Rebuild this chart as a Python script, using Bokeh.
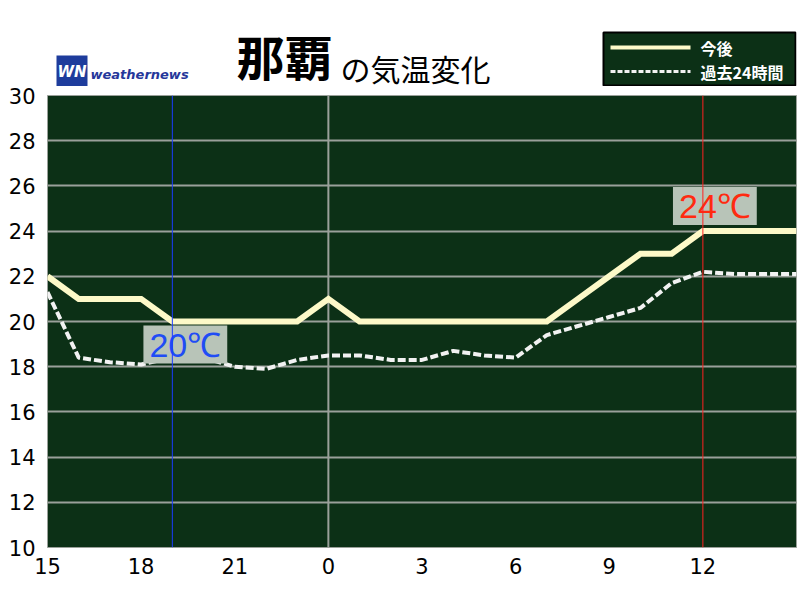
from bokeh.plotting import figure
from bokeh.layouts import column
from bokeh.models import Range1d, FixedTicker, Span, Label
from bokeh.embed import file_html
from bokeh.resources import INLINE

# ---- data ----
hours = list(range(25))                      # 15:00 today .. 15:00 tomorrow
tick_pos = [0, 3, 6, 9, 12, 15, 18, 21]
tick_labels = ["15", "18", "21", "0", "3", "6", "9", "12"]
future_temp = [22, 21, 21, 21, 20, 20, 20, 20, 20, 21, 20, 20, 20, 20, 20, 20, 20,
               21, 22, 23, 23, 24, 24, 24, 24]
past_temp = [21.3, 18.4, 18.2, 18.1, 18.4, 18.4, 18.0, 17.9, 18.3, 18.5, 18.5, 18.3,
             18.3, 18.7, 18.5, 18.4, 19.4, 19.8, 20.2, 20.6, 21.7, 22.2, 22.1, 22.1, 22.1]
y_ticks = [10, 12, 14, 16, 18, 20, 22, 24, 26, 28, 30]
title_city = "那覇"
title_rest = "の気温変化"
legend_future = "今後"
legend_past = "過去24時間"

BG = "#0c3016"
CJK = "Noto Sans CJK JP"
FUT_COLOR = "#fdf9c8"
PAST_COLOR = "#f2f2f2"
W = 798
LEFT, RIGHT = 47, 2
TOP_H = 86
MAIN_H = 512

# ---------------- header figure (title, logo, legend) ----------------
# header data coordinates equal page pixels (x: 47..796, y: 0..86 downward)
top = figure(width=W, height=TOP_H, output_backend="svg", toolbar_location=None,
             x_range=Range1d(LEFT, W - RIGHT), y_range=Range1d(TOP_H, 0),
             min_border_left=LEFT, min_border_right=RIGHT, min_border_top=0,
             min_border_bottom=0, x_axis_type=None, y_axis_type=None)
top.outline_line_color = None
top.background_fill_color = "white"
top.grid.grid_line_color = None

top.text(x=[236], y=[54], text=[title_city], text_align="left",
         text_baseline="middle", text_font={"value": CJK}, text_font_size="48px",
         text_font_style="bold", text_color="black")
top.text(x=[340], y=[67], text=[title_rest], text_align="left",
         text_baseline="middle", text_font={"value": CJK}, text_font_size="30px",
         text_color="black")

# logo
top.quad(left=[56], right=[87], top=[55], bottom=[87], fill_color="#1e3c9c",
         line_color=None)
top.text(x=[71.5], y=[71], text=["WN"], text_align="center", text_baseline="middle",
         text_font={"value": "DejaVu Sans"}, text_font_size="15px",
         text_font_style="bold italic", text_color="white")
top.text(x=[90], y=[74], text=["weathernews"], text_align="left",
         text_baseline="middle", text_font={"value": "DejaVu Sans"},
         text_font_size="13px", text_font_style="bold italic", text_color="#26379a")

# legend box drawn with the header's own glyphs
top.quad(left=[603], right=[795], top=[32], bottom=[85], fill_color=BG,
         line_color="black", line_width=2)
top.line([610, 690], [47, 47], line_color=FUT_COLOR, line_width=4)
top.line([610, 690], [71, 71], line_color=PAST_COLOR, line_width=3, line_dash="5 2")
top.text(x=[700, 700], y=[47, 71], text=[legend_future, legend_past],
         text_align="left", text_baseline="middle", text_color="white",
         text_font={"value": CJK}, text_font_size="16px", text_font_style="bold")

# ---------------- main chart ----------------
p = figure(width=W, height=MAIN_H, output_backend="svg", toolbar_location=None,
           x_range=Range1d(0, 24), y_range=Range1d(10, 30),
           min_border_left=LEFT, min_border_right=RIGHT, min_border_top=9,
           min_border_bottom=51)
p.background_fill_color = BG
p.border_fill_color = "white"
p.outline_line_color = "#9aa09a"
p.outline_line_width = 1

p.xaxis.ticker = FixedTicker(ticks=tick_pos)
p.xaxis.major_label_overrides = {t: l for t, l in zip(tick_pos, tick_labels)}
p.yaxis.ticker = FixedTicker(ticks=y_ticks)
for ax in (p.xaxis[0], p.yaxis[0]):
    ax.axis_line_color = None
    ax.major_tick_line_color = None
    ax.minor_tick_line_color = None
    ax.major_label_text_font = "DejaVu Sans"
    ax.major_label_text_font_size = "21px"
    ax.major_label_text_color = "black"
p.xaxis.major_label_standoff = 4
p.yaxis.major_label_standoff = 6

p.xgrid.grid_line_color = None
p.ygrid.grid_line_color = "#9aa09a"
p.ygrid.grid_line_width = 2

# day boundary line (at tick labelled "0")
p.add_layout(Span(location=tick_pos[tick_labels.index("0")], dimension="height",
                  line_color="#9aa09a", line_width=2, level="underlay"))

r_future = p.line(hours, future_temp, line_color=FUT_COLOR, line_width=6,
                  line_join="miter")
r_past = p.line(hours, past_temp, line_color=PAST_COLOR, line_width=4,
                line_dash="8 3")

fmin = min(future_temp)
fmax = max(future_temp)
imin = hours[future_temp.index(fmin)]
imax = hours[future_temp.index(fmax)]

box_pad = dict(left=6, right=6, top=0, bottom=0)
p.add_layout(Label(x=imin, y=fmin, text=f"{fmin}℃", x_offset=13, y_offset=-23,
                   text_align="center", text_baseline="middle",
                   text_font="Liberation Sans", text_font_size="34px",
                   text_color="#1f4cf5",
                   background_fill_color="#b8c4b8", padding=box_pad))
p.add_layout(Label(x=imax, y=fmax, text=f"{fmax}℃", x_offset=12, y_offset=25,
                   text_align="center", text_baseline="middle",
                   text_font="Liberation Sans", text_font_size="34px",
                   text_color="#ff2a10",
                   background_fill_color="#b8c4b8", padding=box_pad))

p.add_layout(Span(location=imin, dimension="height", line_color="#1a3cff",
                  line_width=1, level="overlay"))
p.add_layout(Span(location=imax, dimension="height", line_color="#ff2020",
                  line_width=1, level="overlay"))

layout = column(top, p, spacing=0)
open("out.html", "w").write(file_html(layout, INLINE))
